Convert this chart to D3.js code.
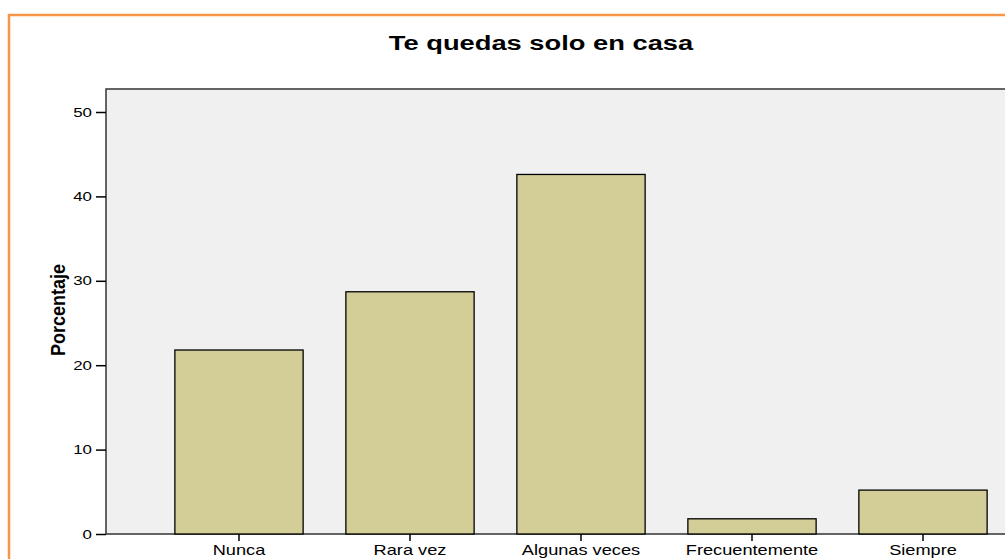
<!DOCTYPE html>
<html>
<head>
<meta charset="utf-8">
<script src="https://cdn.jsdelivr.net/npm/d3@7"></script>
<style>
  body { margin: 0; background: #fff; }
  svg { display: block; font-family: "Liberation Sans", Arial, sans-serif; }
</style>
</head>
<body>
<div id="chart"></div>
<script>
// data
var categories = ["Nunca", "Rara vez", "Algunas veces", "Frecuentemente", "Siempre"];
var percentages = [21.8, 28.7, 42.6, 1.8, 5.2];
var yTicks = [0, 10, 20, 30, 40, 50];

var svgWidth = 1005;
var svgHeight = 559;

// the original picture is stretched sideways, so text gets a horizontal scale
var stretch = 1.3;

var svg = d3.select("#chart")
  .append("svg")
  .attr("width", svgWidth)
  .attr("height", svgHeight);

// orange frame (right and bottom sides fall outside the picture)
svg.append("rect")
  .attr("x", 9)
  .attr("y", 15)
  .attr("width", 1100)
  .attr("height", 600)
  .attr("fill", "none")
  .attr("stroke", "#f79646")
  .attr("stroke-width", 2.5);

// plot area, extends past the right edge like the original
var plot = { left: 106, top: 89, right: 1055, bottom: 534 };

var xScale = d3.scaleBand()
  .domain(categories)
  .range([153.5, 1008.5])
  .paddingInner(0.25)
  .paddingOuter(0.125);

var yScale = d3.scaleLinear()
  .domain([0, 50])
  .range([plot.bottom, 112]);

svg.append("rect")
  .attr("x", plot.left)
  .attr("y", plot.top)
  .attr("width", plot.right - plot.left)
  .attr("height", plot.bottom - plot.top)
  .attr("fill", "#f0f0f0")
  .attr("stroke", "#333")
  .attr("stroke-width", 1.5);

// bars
svg.selectAll(".bar")
  .data(percentages)
  .enter()
  .append("rect")
  .attr("class", "bar")
  .attr("x", (d, i) => xScale(categories[i]))
  .attr("y", d => yScale(d))
  .attr("width", xScale.bandwidth())
  .attr("height", d => yScale(0) - yScale(d))
  .attr("fill", "#d3ce98")
  .attr("stroke", "#000")
  .attr("stroke-width", 1.3);

// axes
var yAxis = d3.axisLeft(yScale)
  .tickValues(yTicks)
  .tickSize(10)
  .tickPadding(0);

var yg = svg.append("g")
  .attr("transform", `translate(${plot.left}, 0)`)
  .call(yAxis);
yg.select(".domain").remove();
yg.selectAll(".tick text")
  .attr("font-size", "13px")
  .attr("x", -14 / stretch)
  .attr("transform", `scale(${stretch},1)`);

var xAxis = d3.axisBottom(xScale)
  .tickSize(7)
  .tickPadding(0);

var xg = svg.append("g")
  .attr("transform", `translate(0, ${plot.bottom})`)
  .call(xAxis);
xg.select(".domain").remove();
xg.selectAll(".tick text")
  .attr("font-size", "14px")
  .attr("y", 21)
  .attr("dy", null)
  .attr("transform", `scale(${stretch},1)`);

svg.selectAll(".tick line")
  .attr("stroke", "#000")
  .attr("stroke-width", 1.5);
svg.selectAll(".tick text")
  .attr("font-family", "Liberation Sans, Arial, sans-serif")
  .attr("fill", "#000");

// title
svg.append("text")
  .attr("transform", `translate(541, 50) scale(${stretch},1)`)
  .attr("text-anchor", "middle")
  .attr("font-size", "21px")
  .attr("font-weight", "bold")
  .text("Te quedas solo en casa");

// y label
svg.append("text")
  .attr("transform", "translate(65, 310) scale(1.15,1) rotate(-90)")
  .attr("text-anchor", "middle")
  .attr("font-size", "18px")
  .attr("font-weight", "bold")
  .text("Porcentaje");
</script>
</body>
</html>
